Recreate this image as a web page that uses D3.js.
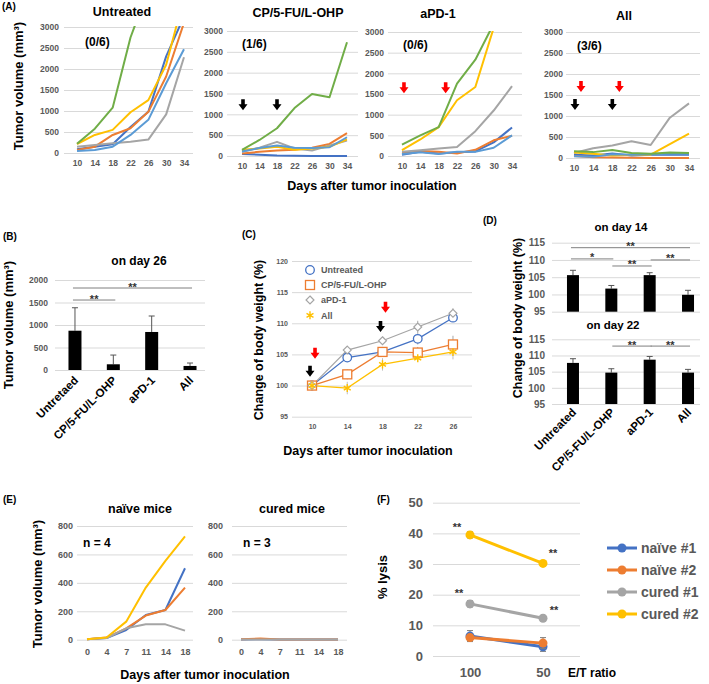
<!DOCTYPE html>
<html><head><meta charset="utf-8">
<script src="https://cdn.jsdelivr.net/npm/d3@7"></script>
<style>body{margin:0;background:#fff}</style>
</head><body><script>
// ---------------- DATA ----------------
const daysA = ["10","14","18","22","26","30","34"];
const colorsA = ["#4472C4","#ED7D31","#A5A5A5","#FFC000","#5B9BD5","#70AD47"];
const untreatedVals = [
  [90,150,210,620,980,2300,3250],
  [70,150,430,590,980,1820,3100],
  [150,190,230,270,320,920,2280],
  [214,430,550,970,1260,2100,3700],
  [45,70,150,430,790,1660,2470],
  [222,580,1080,2750,3900,5000,6000]
];
const chemoVals = [
  [50,30,10,5,0,0,0],
  [60,100,130,150,200,290,550],
  [100,200,340,180,130,250,370],
  [150,180,220,150,180,220,400],
  [110,190,250,200,190,210,450],
  [145,385,666,1150,1490,1410,2730]
];
const pd1Vals = [
  [30,100,60,90,110,330,690],
  [80,120,100,60,150,380,490],
  [100,140,180,220,600,1100,1690],
  [140,400,700,1350,1670,3100,4000],
  [50,90,50,100,100,200,500],
  [275,500,700,1750,2330,3200,4200]
];
const allVals = [
  [80,60,110,60,80,80,80],
  [50,20,10,5,0,0,0],
  [120,230,300,400,310,960,1300],
  [130,100,60,80,80,330,580],
  [40,30,90,80,90,100,100],
  [160,140,190,120,100,130,120]
];
const titlesA = ["Untreated","CP/5-FU/L-OHP","aPD-1","All"];
const curedFracA = ["(0/6)","(1/6)","(0/6)","(3/6)"];
const ticksA = [0,500,1000,1500,2000,2500,3000];

const groupsB = ["Untretaed","CP/5-FU/L-OHP","aPD-1","All"];
const day26Mean = [873,127,845,90];
const day26Err = [510,205,355,65];
const ticksB = [0,500,1000,1500,2000];
const sigB = [[0,1,1555,"**"],[0,3,1822,"**"]];

const daysC = ["10","14","18","22","26"];
const namesC = ["Untreated","CP/5-FU/L-OHP","aPD-1","All"];
const colorsC = ["#4472C4","#ED7D31","#A5A5A5","#FFC000"];
const weightUntreated = [100,104.5,105.4,107.5,110.9];
const weightChemo = [100,101.8,105.4,105.3,106.6];
const weightPD1 = [100,105.7,107.2,109.4,111.6];
const weightAll = [100,99.6,103.4,104.4,105.4];
const errUntreated = [0,0.6,0.6,0.9,0.7];
const errChemo = [0,0.8,0.8,0.9,1.4];
const errPD1 = [0,0.5,0.4,1.0,0.8];
const errAll = [0,1.0,1.0,0.6,1.2];
const ticksC = [95,100,105,110,115,120];

const groupsD = ["Untreated","CP/5-FU/L-OHP","aPD-1","All"];
const day14Mean = [105.6,101.7,105.6,99.9];
const day14Err = [1.4,0.9,0.7,1.3];
const day22Mean = [107.7,104.7,108.7,104.7];
const day22Err = [1.3,1.2,1.0,1.0];
const ticksD = [95,100,105,110,115];
const sigD14 = [[0,3,113.55,"**"],[0,1,110.3,"*"],[1,2,108.25,"**"],[2,3,110.0,"**"]];
const sigD22 = [[1,2,112.9,"**"],[2,3,112.9,"**"]];

const daysE = ["0","4","7","11","14","18"];
const colorsE = ["#4472C4","#ED7D31","#A5A5A5","#FFC000"];
const naiveVals = [
  [3,12,68,174,209,503],
  [3,15,80,170,209,367],
  [3,12,80,108,108,64],
  [3,15,127,367,555,727]
];
const curedVals = [
  [2,3,2,2,2,2],
  [3,8,2,2,2,2],
  [2,2,2,2,2,2]
];
const ticksE = [0,200,400,600,800];

const ratiosF = ["100","50"];
const namesF = ["naïve #1","naïve #2","cured #1","cured #2"];
const colorsF = ["#4472C4","#ED7D31","#A5A5A5","#FFC000"];
const lysisVals = [[6.5,3.0],[6.0,4.2],[17.0,12.3],[39.5,30.2]];
const lysisErr = [[1.8,1.5],[1.0,1.8],[1.0,0.4],[1.0,0.5]];
const ticksF = [0,10,20,30,40,50];
const starsF = [["100",40.8,-13],["50",32.3,10],["100",19.2,-11],["50",13.8,11]];

// ---------------- HELPERS ----------------
const FONT = '"Liberation Sans", Arial, Helvetica, sans-serif';
const GRID = "#d9d9d9", TICK = "#595959";
const svg = d3.select("body").append("svg").attr("width",709).attr("height",684)
  .style("background","#fff");
svg.append("rect").attr("width",709).attr("height",684).attr("fill","#fff");

function txt(x,y,s,o={}){
  const t = svg.append("text").attr("x",x).attr("y",y).text(s)
    .attr("font-family",FONT).attr("font-size",o.size||12)
    .attr("font-weight",o.weight||"bold").attr("fill",o.fill||"#000")
    .attr("text-anchor",o.anchor||"middle");
  if(o.rotate!=null) t.attr("transform",`rotate(${o.rotate},${x},${y})`);
  return t;
}
function yGrid(y,gx0,gx1,ticks,labelRight,size){
  const g = svg.append("g").attr("transform",`translate(${gx0},0)`)
    .call(d3.axisLeft(y).tickValues(ticks).tickFormat(d3.format("d"))
      .tickSize(-(gx1-gx0)).tickPadding(gx0-labelRight));
  g.select(".domain").remove();
  g.selectAll(".tick line").attr("stroke",GRID).attr("stroke-width",1);
  g.selectAll(".tick text").attr("font-family",FONT).attr("font-size",size)
    .attr("font-weight","bold").attr("fill",TICK);
  return g;
}
function xTicks(x,y0,pad,size){
  const g = svg.append("g").attr("transform",`translate(0,${y0})`)
    .call(d3.axisBottom(x).tickSize(0).tickPadding(pad));
  g.select(".domain").remove();
  g.selectAll(".tick text").attr("font-family",FONT).attr("font-size",size)
    .attr("font-weight","bold").attr("fill",TICK);
  return g;
}
function arrow(cx,tipY,color){
  const p = `M${cx-1.8},${tipY-11} L${cx+1.8},${tipY-11} L${cx+1.8},${tipY-6} L${cx+4.5},${tipY-6} L${cx},${tipY} L${cx-4.5},${tipY-6} L${cx-1.8},${tipY-6} Z`;
  svg.append("path").attr("d",p).attr("fill",color);
}
function rotLabels(x,names,yTop,size){
  names.forEach(n=>{
    txt(x(n)+4,yTop,n,{size:size,anchor:"end",rotate:-45});
  });
}
function sigLines(x,y,cats,sigs){
  sigs.forEach(([a,b,v,s])=>{
    const x1 = x(cats[a]) + (a===0?-2:1), x2 = x(cats[b]) + 2;
    svg.append("line").attr("x1",x1).attr("x2",x2).attr("y1",y(v)).attr("y2",y(v))
      .attr("stroke","#7f7f7f").attr("stroke-width",1);
    txt((x1+x2)/2,y(v)+2.5,s,{size:11,fill:"#333"});
  });
}

// ---------------- PANEL A ----------------
txt(2,10,"(A)",{size:10,anchor:"start"});
const layA = [
  {gx:[64,193],pr:[68.1,192.9],yr:[153,27],lab:59,tx:122,ty:16,fx:85,fy:46},
  {gx:[227,358],pr:[233.25,355.75],yr:[156,31],lab:223,tx:298,ty:16.5,fx:242,fy:48},
  {gx:[388,522],pr:[392.8,521.2],yr:[156,32],lab:384,tx:438,ty:18,fx:403,fy:49},
  {gx:[566,700],pr:[564.4,698.6],yr:[158,32],lab:563,tx:624,ty:20,fx:577,fy:50}
];
const valsA = [untreatedVals,chemoVals,pd1Vals,allVals];
const scalesA = [];
layA.forEach((L,i)=>{
  const x = d3.scalePoint().domain(daysA).range(L.pr).padding(0.5);
  const y = d3.scaleLinear().domain([0,3000]).range(L.yr);
  scalesA.push({x,y});
  yGrid(y,L.gx[0],L.gx[1],ticksA,L.lab,8.5);
  xTicks(x,L.yr[0],7,8.5);
  const cid = "clipA"+i;
  svg.append("clipPath").attr("id",cid).append("rect")
    .attr("x",L.gx[0]).attr("y",L.yr[1]-1).attr("width",L.gx[1]-L.gx[0]).attr("height",L.yr[0]-L.yr[1]+3);
  const line = d3.line().x((d,j)=>x(daysA[j])).y(d=>y(d));
  const gl = svg.append("g").attr("clip-path",`url(#${cid})`);
  valsA[i].forEach((s,k)=>{
    gl.append("path").attr("d",line(s)).attr("fill","none")
      .attr("stroke",colorsA[k]).attr("stroke-width",2).attr("stroke-linejoin","round");
  });
  txt(L.tx,L.ty,titlesA[i],{size:12.5});
  txt(L.fx,L.fy,curedFracA[i],{size:12,anchor:"start"});
});
arrow(scalesA[1].x("10")+1,scalesA[1].y(1100),"#000");
arrow(scalesA[1].x("18"),scalesA[1].y(1100),"#000");
arrow(scalesA[2].x("10")+2,scalesA[2].y(1520),"#f00");
arrow(scalesA[2].x("18")+7,scalesA[2].y(1520),"#f00");
arrow(scalesA[3].x("10")+7,scalesA[3].y(1570),"#f00");
arrow(scalesA[3].x("18")+7,scalesA[3].y(1570),"#f00");
arrow(scalesA[3].x("10")+1,scalesA[3].y(1140),"#000");
arrow(scalesA[3].x("18"),scalesA[3].y(1140),"#000");
txt(23,86,"Tumor volume (mm³)",{size:13,rotate:-90});
txt(372,190,"Days after tumor inoculation",{size:12.5});

// ---------------- PANEL B ----------------
txt(3,240,"(B)",{size:10,anchor:"start"});
{
  const x = d3.scalePoint().domain(groupsB).range([55.8,209.2]).padding(0.5);
  const y = d3.scaleLinear().domain([0,2000]).range([370,280]);
  yGrid(y,55,205,ticksB,48,8.5);
  const bw = 13;
  groupsB.forEach((g,i)=>{
    const cx = x(g), top = y(day26Mean[i]+day26Err[i]);
    svg.append("line").attr("x1",cx).attr("x2",cx).attr("y1",y(day26Mean[i])).attr("y2",top)
      .attr("stroke","#555").attr("stroke-width",1);
    svg.append("line").attr("x1",cx-3).attr("x2",cx+3).attr("y1",top).attr("y2",top)
      .attr("stroke","#555").attr("stroke-width",1);
    svg.append("rect").attr("x",cx-bw/2).attr("width",bw).attr("y",y(day26Mean[i]))
      .attr("height",y(0)-y(day26Mean[i])).attr("fill","#000");
  });
  sigLines(x,y,groupsB,sigB);
  rotLabels(x,groupsB,381,11.5);
  txt(139,265,"on day 26",{size:12});
  txt(13,325,"Tumor volume (mm³)",{size:13,rotate:-90});
}

// ---------------- PANEL C ----------------
txt(242,238,"(C)",{size:10,anchor:"start"});
{
  const x = d3.scalePoint().domain(daysC).range([294.4,470.6]).padding(0.5);
  const y = d3.scaleLinear().domain([95,120]).range([416.7,261]);
  yGrid(y,292,472,ticksC,288,7);
  xTicks(x,y(95),7,7);
  const series = [weightUntreated,weightChemo,weightPD1,weightAll];
  const errs = [errUntreated,errChemo,errPD1,errAll];
  const line = d3.line().x((d,j)=>x(daysC[j])).y(d=>y(d));
  series.forEach((s,k)=>{
    s.forEach((v,j)=>{
      if(errs[k][j]>0){
        svg.append("line").attr("x1",x(daysC[j])).attr("x2",x(daysC[j]))
          .attr("y1",y(v-errs[k][j])).attr("y2",y(v+errs[k][j]))
          .attr("stroke",k===3?"#bfbfbf":"#a6a6a6").attr("stroke-width",1);
      }
    });
  });
  series.forEach((s,k)=>{
    svg.append("path").attr("d",line(s)).attr("fill","none")
      .attr("stroke",colorsC[k]).attr("stroke-width",1.2);
  });
  function marker(k,cx,cy){
    const c = colorsC[k];
    if(k===0) svg.append("circle").attr("cx",cx).attr("cy",cy).attr("r",4.3)
      .attr("fill","#fff").attr("stroke",c).attr("stroke-width",1.3);
    else if(k===1) svg.append("rect").attr("x",cx-4.5).attr("y",cy-4.5).attr("width",9).attr("height",9)
      .attr("fill","#fff").attr("stroke",c).attr("stroke-width",1.3);
    else if(k===2) svg.append("path").attr("d",d3.symbol(d3.symbolDiamond2,40)())
      .attr("transform",`translate(${cx},${cy})`).attr("fill","#fff").attr("stroke",c).attr("stroke-width",1.2);
    else svg.append("path").attr("d",d3.symbol(d3.symbolAsterisk,45)())
      .attr("transform",`translate(${cx},${cy})`).attr("fill","none").attr("stroke",c).attr("stroke-width",1.4);
  }
  series.forEach((s,k)=>s.forEach((v,j)=>marker(k,x(daysC[j]),y(v))));
  const ly = [270,285,300,315.3];
  namesC.forEach((n,k)=>{
    marker(k,310,ly[k]);
    txt(321,ly[k]+3.2,n,{size:9,anchor:"start",fill:TICK});
  });
  arrow(x("10")-2,y(101.4),"#000");
  arrow(x("18")-2,y(108.6),"#000");
  arrow(x("10")+3,y(104.3),"#f00");
  arrow(x("18")+3,y(111.7),"#f00");
  txt(263,340,"Change of body weight (%)",{size:12.5,rotate:-90});
  txt(368,455,"Days after tumor inoculation",{size:12.5});
}

// ---------------- PANEL D ----------------
txt(483,224,"(D)",{size:10,anchor:"start"});
{
  const x = d3.scalePoint().domain(groupsD).range([553.8,707.2]).padding(0.5);
  const bw = 12;
  function bars(y,mean,err){
    yGrid(y,552,700,ticksD,545,10);
    groupsD.forEach((g,i)=>{
      const cx = x(g), top = y(mean[i]+err[i]);
      svg.append("line").attr("x1",cx).attr("x2",cx).attr("y1",y(mean[i])).attr("y2",top)
        .attr("stroke","#555").attr("stroke-width",1);
      svg.append("line").attr("x1",cx-3).attr("x2",cx+3).attr("y1",top).attr("y2",top)
        .attr("stroke","#555").attr("stroke-width",1);
      svg.append("rect").attr("x",cx-bw/2).attr("width",bw).attr("y",y(mean[i]))
        .attr("height",y(95)-y(mean[i])).attr("fill","#000");
    });
  }
  const y14 = d3.scaleLinear().domain([95,115]).range([311.7,242.7]);
  const y22 = d3.scaleLinear().domain([95,115]).range([404,339.3]);
  bars(y14,day14Mean,day14Err);
  bars(y22,day22Mean,day22Err);
  sigLines(x,y14,groupsD,sigD14);
  sigLines(x,y22,groupsD,sigD22);
  txt(621,231,"on day 14",{size:11.5});
  txt(613,329,"on day 22",{size:11.5});
  rotLabels(x,groupsD,413,11.5);
  txt(522,318,"Change of body weight (%)",{size:12.5,rotate:-90});
}

// ---------------- PANEL E ----------------
txt(3,503,"(E)",{size:10,anchor:"start"});
{
  const y = d3.scaleLinear().domain([0,800]).range([639.7,526]);
  const plots = [
    {pr:[77.2,194.8],gx:[77,193],lab:73,vals:naiveVals,title:"naïve mice",tx:140,n:"n = 4",nx:83},
    {pr:[231.3,347.7],gx:[232,347],lab:223,vals:curedVals,title:"cured mice",tx:292,n:"n = 3",nx:243}
  ];
  plots.forEach(P=>{
    const x = d3.scalePoint().domain(daysE).range(P.pr).padding(0.5);
    yGrid(y,P.gx[0],P.gx[1],ticksE,P.lab,9);
    xTicks(x,y(0),9,9);
    const line = d3.line().x((d,j)=>x(daysE[j])).y(d=>y(d));
    P.vals.forEach((s,k)=>{
      svg.append("path").attr("d",line(s)).attr("fill","none")
        .attr("stroke",colorsE[k]).attr("stroke-width",2).attr("stroke-linejoin","round");
    });
    txt(P.tx,513,P.title,{size:12.5});
    txt(P.nx,547,P.n,{size:12,anchor:"start"});
  });
  txt(42,584,"Tumor volume (mm³)",{size:13,rotate:-90});
  txt(205,679,"Days after tumor inoculation",{size:12.5});
}

// ---------------- PANEL F ----------------
txt(377,503,"(F)",{size:10,anchor:"start"});
{
  const x = d3.scalePoint().domain(ratiosF).range([433.5,579.5]).padding(0.5);
  const y = d3.scaleLinear().domain([0,50]).range([656,502.7]);
  yGrid(y,433,580,ticksF,423,13);
  xTicks(x,y(0),12,13);
  const line = d3.line().x((d,j)=>x(ratiosF[j])).y(d=>y(d));
  lysisVals.forEach((s,k)=>{
    s.forEach((v,j)=>{
      const cx = x(ratiosF[j]), e = lysisErr[k][j];
      svg.append("line").attr("x1",cx).attr("x2",cx).attr("y1",y(v-e)).attr("y2",y(v+e))
        .attr("stroke","#7f7f7f").attr("stroke-width",1);
      [v-e,v+e].forEach(t=>svg.append("line").attr("x1",cx-3).attr("x2",cx+3)
        .attr("y1",y(t)).attr("y2",y(t)).attr("stroke","#7f7f7f").attr("stroke-width",1));
    });
    svg.append("path").attr("d",line(s)).attr("fill","none")
      .attr("stroke",colorsF[k]).attr("stroke-width",3);
    s.forEach((v,j)=>svg.append("circle").attr("cx",x(ratiosF[j])).attr("cy",y(v)).attr("r",4.5)
      .attr("fill",colorsF[k]));
  });
  starsF.forEach(([r,v,dx])=>txt(x(r)+dx,y(v),"**",{size:11,fill:"#333"}));
  txt(568,677,"E/T ratio",{size:12,anchor:"start"});
  txt(387,577,"% lysis",{size:13,rotate:-90});
  const ly = [548,570,592,614];
  namesF.forEach((n,k)=>{
    svg.append("line").attr("x1",607).attr("x2",637).attr("y1",ly[k]).attr("y2",ly[k])
      .attr("stroke",colorsF[k]).attr("stroke-width",3);
    svg.append("circle").attr("cx",622).attr("cy",ly[k]).attr("r",4.5).attr("fill",colorsF[k]);
    txt(641,ly[k]+5,n,{size:14,anchor:"start",fill:TICK});
  });
}
</script></body></html>
